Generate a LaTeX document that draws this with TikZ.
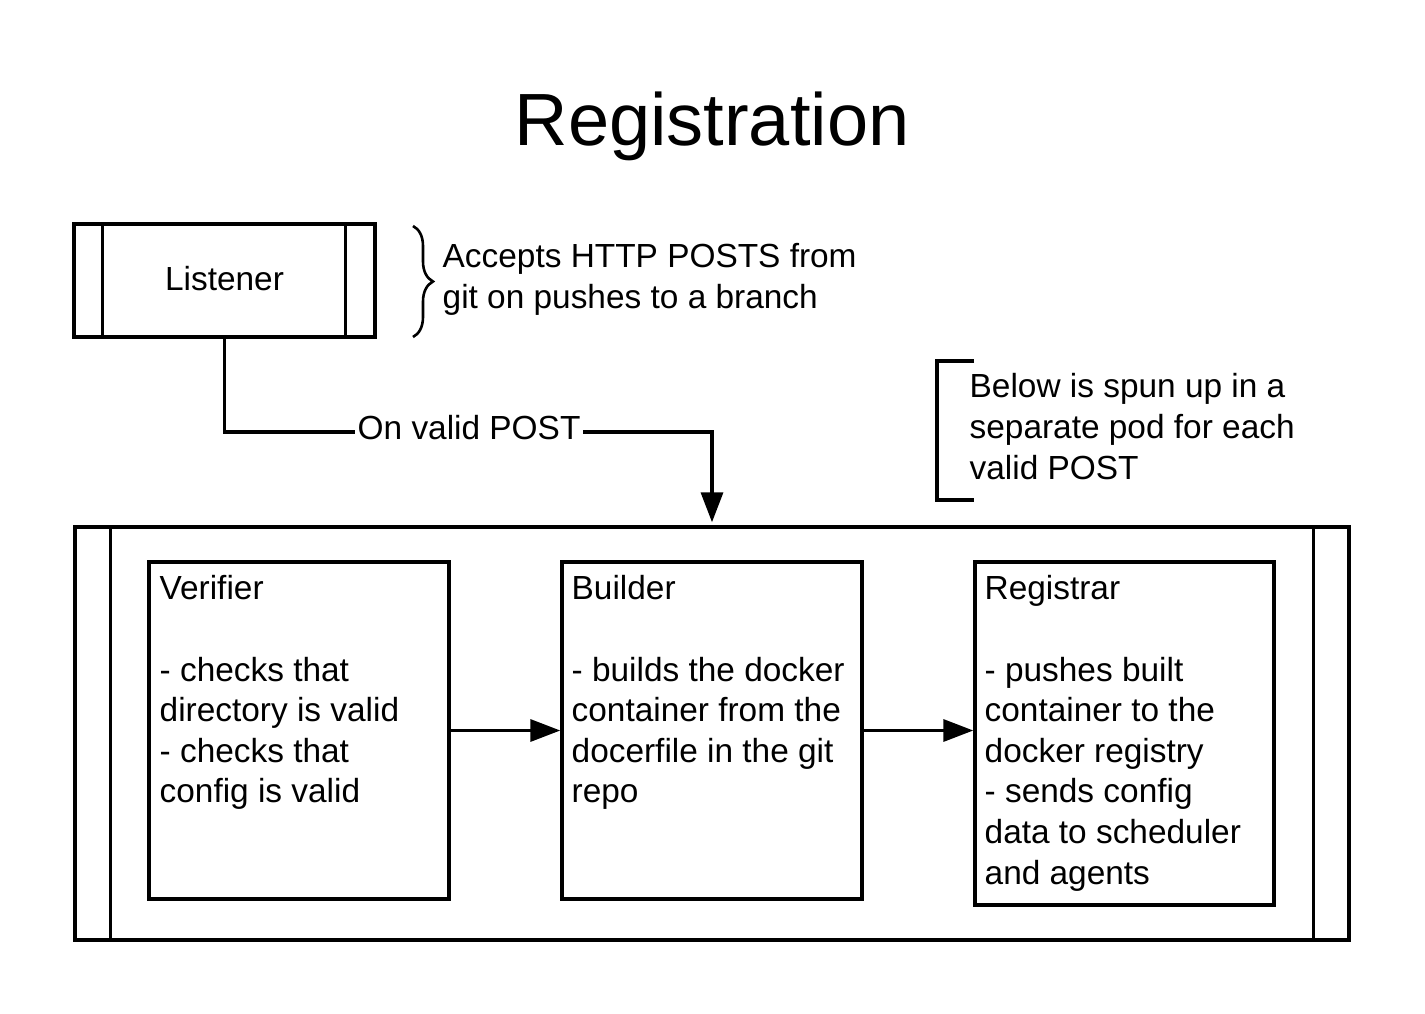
\documentclass[tikz,border=0pt]{standalone}
\usepackage{fontspec}
\setmainfont{Liberation Sans}
\usetikzlibrary{arrows.meta,calc,decorations.pathreplacing}
\begin{document}
\begin{tikzpicture}[x=1pt,y=-1pt,line width=3.4pt,
  box/.style={draw,rectangle,inner sep=0pt,line width=3.4pt},
  txt/.style={font=\fontsize{33.4}{40.6}\selectfont,inner sep=0pt,align=left},
  arr/.style={-{Triangle[length=30pt,width=22pt]}},
  conn/.style={line width=3.4pt}]
\useasboundingbox (0,0) rectangle (1425,1014);
\fill[white] (0,0) rectangle (1425,1014);

% title
\node[font=\fontsize{74}{74}\selectfont,inner sep=0pt,anchor=base] (title) at (712,146) {Registration};

% listener
\node[box,minimum width=301pt,minimum height=113pt,font=\fontsize{33.4}{40.6}\selectfont] (listener) at (224.5,280.5) {\raisebox{4pt}{Listener}};
\draw ($(listener.north west)+(30,0)$) -- ($(listener.south west)+(30,0)$);
\draw ($(listener.north east)+(-31,0)$) -- ($(listener.south east)+(-31,0)$);

% brace + note
\coordinate (bt) at (413,226);
\coordinate (bb) at (413,337);
\draw[decorate,decoration={brace,amplitude=20pt},line width=2.6pt] (bt) -- (bb);
\node[txt,anchor=north west] (accept) at (441,242) {Accepts HTTP POSTS from\\git on pushes to a branch};

% bracket + note
\coordinate (k1) at (974,361);
\coordinate (k2) at (937,361);
\coordinate (k3) at (937,500);
\coordinate (k4) at (974,500);
\draw (k1) -- (k2) -- (k3) -- (k4);
\node[txt,anchor=north west] (below) at (968,372) {Below is spun up in a\\separate pod for each\\valid POST};

% pod
\node[box,minimum width=1274pt,minimum height=413pt] (pod) at (712,733.5) {};
\draw ($(pod.north west)+(37,0)$) -- ($(pod.south west)+(37,0)$);
\draw ($(pod.north east)+(-37,0)$) -- ($(pod.south east)+(-37,0)$);

% inner boxes
\node[box,minimum width=300pt,minimum height=337pt] (verifier) at (299,730.5) {};
\node[box,minimum width=300pt,minimum height=337pt] (builder) at (712,730.5) {};
\node[box,minimum width=299pt,minimum height=343pt] (registrar) at (1124.5,733.5) {};

\node[txt,anchor=north west] (vtext) at (158,574) {Verifier\\\mbox{}\\- checks that\\directory is valid\\- checks that\\config is valid};
\node[txt,anchor=north west] (btext) at (570,574) {Builder\\\mbox{}\\- builds the docker\\container from the\\docerfile in the git\\repo};
\node[txt,anchor=north west] (rtext) at (983,574) {Registrar\\\mbox{}\\- pushes built\\container to the\\docker registry\\- sends config\\data to scheduler\\and agents};

% connectors
\node[txt,anchor=base west,text depth=10pt,inner xsep=1pt] (lbl) at (355,439) {On valid POST};
\draw[conn] (listener.south) |- (lbl.west);
\draw[conn,arr,shorten >=3pt] (lbl.east) -| (pod.north);
\draw[conn,arr] (verifier.east) -- (builder.west);
\draw[conn,arr] (builder.east) -- (builder.east -| registrar.west);
\end{tikzpicture}
\end{document}
